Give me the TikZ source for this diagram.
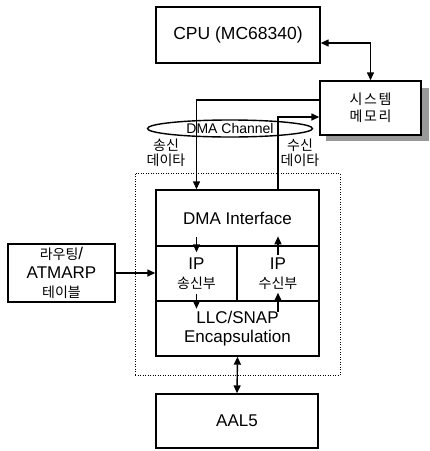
\documentclass[tikz,border=0pt]{standalone}
\usepackage{fontspec}
\setmainfont{Liberation Sans}
\newfontfamily\kr{Noto Sans CJK KR}
\newfontfamily\krw[LetterSpace=12]{Noto Sans CJK KR}
\usetikzlibrary{arrows.meta,shapes.geometric}
\newcommand{\krs}{\kr\fontsize{14}{16}\selectfont}
\tikzset{
  box/.style={draw, line width=1.4pt, inner sep=0pt, align=center, font=\fontsize{17}{19}\selectfont},
  conn/.style={line width=1.4pt},
  arr/.style={conn, -{Triangle[length=8pt,width=7pt]}},
  darr/.style={conn, {Triangle[length=8pt,width=7pt]}-{Triangle[length=8pt,width=7pt]}},
  krlabel/.style={align=center, inner sep=0pt, font=\kr\fontsize{14}{15}\selectfont},
  group/.style={draw, line width=1pt, dash pattern=on 1pt off 1.5pt, inner sep=0pt},
}
\begin{document}
\begin{tikzpicture}[x=1pt,y=-1pt]
\useasboundingbox (0,0) rectangle (430,451);
% boxes
\node[box, minimum width=164pt, minimum height=56pt, font=\fontsize{17.5}{19}\selectfont] (cpu) at (238,35) {CPU (MC68340)};
\fill[black!40] (326,88) rectangle (429,141);
\node[box, fill=white, minimum width=101pt, minimum height=54pt,
      font=\krw\fontsize{14}{17}\selectfont] (mem) at (370.5,108) {시스템\\메모리};
\node[group, minimum width=205pt, minimum height=202pt] (grp) at (237.5,274) {};
\node[box, minimum width=163pt, minimum height=56pt] (dma) at (237.5,218) {DMA Interface};
\node[box, minimum width=81pt, minimum height=55pt] (ipsend) at (196.5,273.5) {IP\\{\krs 송신부}};
\node[box, minimum width=82pt, minimum height=55pt] (iprecv) at (278,273.5) {IP\\{\krs 수신부}};
\node[box, minimum width=163pt, minimum height=55pt] (llc) at (237.5,328.5) {LLC/SNAP\\Encapsulation};
\node[box, minimum width=162pt, minimum height=54pt] (aal5) at (237,421) {AAL5};
\node[box, minimum width=107pt, minimum height=58pt] (rt) at (61.5,273) {{\krs 라우팅}/\\ATMARP\\{\krs 테이블}};
\node[draw, ellipse, conn, minimum width=165pt, minimum height=17pt, inner sep=0pt,
      font=\fontsize{14}{14}\selectfont] (ch) at (230,128.5) {DMA Channel};
\node[krlabel] (sl) at (166,153) {송신\\데이타};
\node[krlabel] (rl) at (300,153) {수신\\데이타};
% connectors
\draw[darr] ([yshift=-8pt]cpu.east) -| (mem.north);
\draw[arr] ([yshift=8pt]mem.west) -| (ipsend.north |- dma.north);
\draw[arr] (iprecv.north |- dma.north) |- ([yshift=-9pt]mem.west);
\draw[arr] ([yshift=8pt]ipsend.north) -- ([yshift=-7pt]ipsend.north);
\draw[arr] ([yshift=8pt]ipsend.south) -- ([yshift=-7pt]ipsend.south);
\draw[arr] ([yshift=-10pt]iprecv.north) -- ([yshift=9pt]iprecv.north);
\draw[arr] ([yshift=-10pt]iprecv.south) -- ([yshift=9pt]iprecv.south);
\draw[arr] (rt.east) -- (ipsend.west |- rt.east);
\draw[darr] (llc.south) -- (aal5.north);
\end{tikzpicture}
\end{document}
